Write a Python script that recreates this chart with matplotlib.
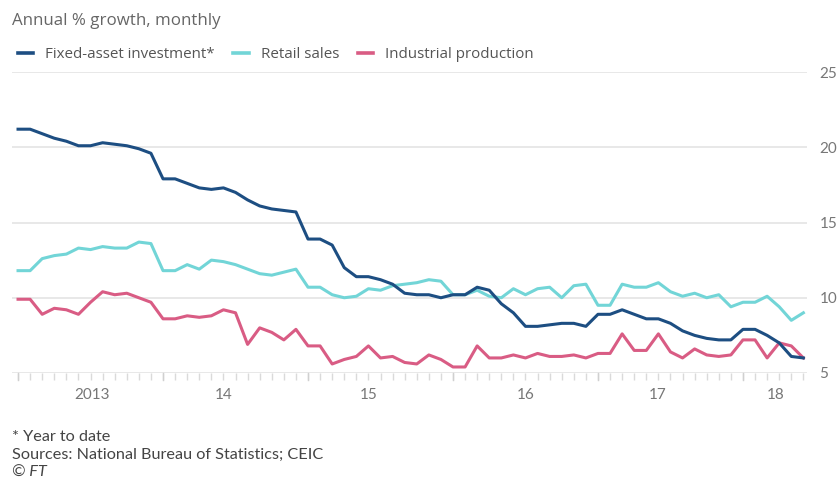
import matplotlib
matplotlib.use("Agg")
from matplotlib import pyplot as plt
import numpy as np

plt.rcParams['font.family'] = ['Lato', 'DejaVu Sans']

# monthly readings, Jan 2013 to Jun 2018 (Jan and Feb share one release)
fixed_asset = [21.2, 21.2, 20.9, 20.6, 20.4, 20.1, 20.1, 20.3, 20.2, 20.1, 19.9, 19.6,
               17.9, 17.9, 17.6, 17.3, 17.2, 17.3, 17.0, 16.5, 16.1, 15.9, 15.8, 15.7,
               13.9, 13.9, 13.5, 12.0, 11.4, 11.4, 11.2, 10.9, 10.3, 10.2, 10.2, 10.0,
               10.2, 10.2, 10.7, 10.5, 9.6, 9.0, 8.1, 8.1, 8.2, 8.3, 8.3, 8.1,
               8.9, 8.9, 9.2, 8.9, 8.6, 8.6, 8.3, 7.8, 7.5, 7.3, 7.2, 7.2,
               7.9, 7.9, 7.5, 7.0, 6.1, 6.0]
retail = [11.8, 11.8, 12.6, 12.8, 12.9, 13.3, 13.2, 13.4, 13.3, 13.3, 13.7, 13.6,
          11.8, 11.8, 12.2, 11.9, 12.5, 12.4, 12.2, 11.9, 11.6, 11.5, 11.7, 11.9,
          10.7, 10.7, 10.2, 10.0, 10.1, 10.6, 10.5, 10.8, 10.9, 11.0, 11.2, 11.1,
          10.2, 10.2, 10.5, 10.1, 10.0, 10.6, 10.2, 10.6, 10.7, 10.0, 10.8, 10.9,
          9.5, 9.5, 10.9, 10.7, 10.7, 11.0, 10.4, 10.1, 10.3, 10.0, 10.2, 9.4,
          9.7, 9.7, 10.1, 9.4, 8.5, 9.0]
industrial = [9.9, 9.9, 8.9, 9.3, 9.2, 8.9, 9.7, 10.4, 10.2, 10.3, 10.0, 9.7,
              8.6, 8.6, 8.8, 8.7, 8.8, 9.2, 9.0, 6.9, 8.0, 7.7, 7.2, 7.9,
              6.8, 6.8, 5.6, 5.9, 6.1, 6.8, 6.0, 6.1, 5.7, 5.6, 6.2, 5.9,
              5.4, 5.4, 6.8, 6.0, 6.0, 6.2, 6.0, 6.3, 6.1, 6.1, 6.2, 6.0,
              6.3, 6.3, 7.6, 6.5, 6.5, 7.6, 6.4, 6.0, 6.6, 6.2, 6.1, 6.2,
              7.2, 7.2, 6.0, 7.0, 6.8, 6.0]
year_labels = ['2013', '14', '15', '16', '17', '18']
y_ticks = [5, 10, 15, 20, 25]

months = np.arange(len(fixed_asset))

fig = plt.figure(figsize=(8.38, 4.79), dpi=100)
ax = fig.add_axes([12 / 838, 106 / 479, 795 / 838, 301 / 479])

grid_col = '#e4e4e4'
for y in y_ticks:
    ax.axhline(y, color=grid_col, lw=1.2, zorder=0)

ax.plot(months, industrial, color='#d95c84', lw=2.2, label='Industrial production',
        clip_on=False)
ax.plot(months, retail, color='#72d5d7', lw=2.2, label='Retail sales', clip_on=False)
ax.plot(months, fixed_asset, color='#1d4e82', lw=2.2, label='Fixed-asset investment*',
        clip_on=False)

ax.set_xlim(-0.5, 65.3)
ax.set_ylim(5, 25)
for s in ax.spines.values():
    s.set_visible(False)

# monthly ticks hanging below the baseline, longer ones at each January
ax.set_xticks(months)
ax.tick_params(axis='x', length=5, width=1, color='#dadada', labelbottom=False)
for m in months[::12]:
    ax.plot([m, m], [5, 4.55], color='#d0d0d0', lw=1, clip_on=False)

year_pos = [6.1, 17.0, 29.0, 42.0, 52.9, 62.7]
for pos, lab in zip(year_pos, year_labels):
    ax.text(pos, 3.55, lab, ha='center', va='center', fontsize=11, color='#777777')

ax.yaxis.tick_right()
ax.set_yticks(y_ticks)
ax.set_yticklabels([str(v) for v in y_ticks])
ax.tick_params(axis='y', length=0, pad=9, labelsize=11, labelcolor='#777777')

fig.text(12 / 838, 1 - 21 / 479, 'Annual % growth, monthly', fontsize=12.2,
         color='#666666', va='center', family=['Open Sans', 'DejaVu Sans'])

handles, labels = ax.get_legend_handles_labels()
leg = fig.legend(handles[::-1], labels[::-1], loc='center left',
                 bbox_to_anchor=(4 / 838, 1 - 55 / 479), ncol=3, frameon=False,
                 handlelength=1.0, handletextpad=0.8, columnspacing=1.25,
                 labelcolor='#555555',
                 prop={'family': ['Open Sans', 'DejaVu Sans'], 'size': 10.9})
for line in leg.get_lines():
    line.set_linewidth(2.6)

foot = dict(fontsize=11.7, color='#444444', va='center')
fig.text(12 / 838, 1 - 437 / 479, '* Year to date', **foot)
fig.text(12 / 838, 1 - 455 / 479, 'Sources: National Bureau of Statistics; CEIC', **foot)
fig.text(12 / 838, 1 - 473 / 479, '© FT', style='italic', **foot)

fig.savefig('out.png', dpi=100, facecolor='white')
